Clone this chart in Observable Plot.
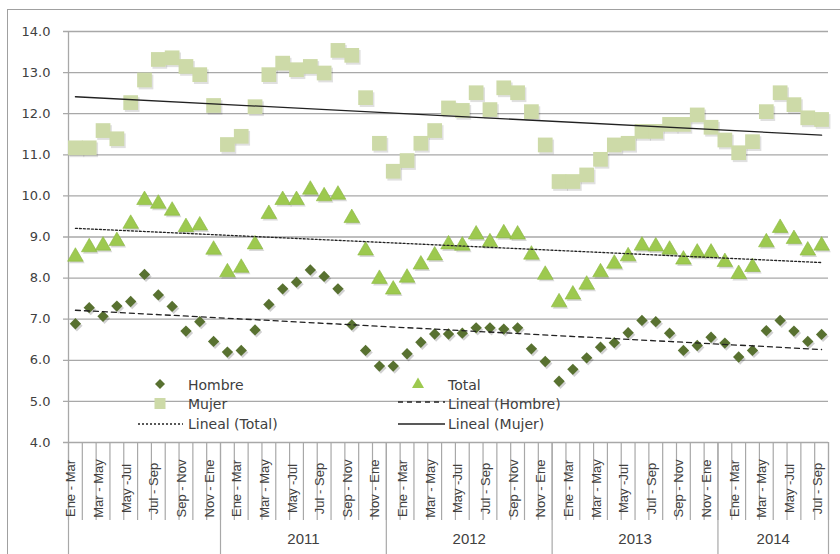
<!DOCTYPE html>
<html><head><meta charset="utf-8">
<script src="https://cdn.jsdelivr.net/npm/d3@7"></script>
<script src="https://cdn.jsdelivr.net/npm/@observablehq/plot@0.6"></script>
<style>
html,body{margin:0;padding:0;background:#fff;overflow:hidden;}
#wrap{position:relative;width:840px;height:554px;overflow:hidden;}
#border{position:absolute;left:7px;top:9px;width:900px;height:600px;border:1.5px solid #a0a0a0;box-sizing:border-box;}
#chart{position:absolute;left:0;top:0;}
#legend{position:absolute;left:0;top:0;}
</style></head><body>
<div id="wrap"><div id="border"></div><div id="chart"></div><svg id="legend" width="840" height="554"></svg></div>
<script>
const periods = [
  "Ene - Mar","Feb - Abr","Mar - May","Abr - Jun","May -Jul","Jun - Ago","Jul - Sep","Ago - Oct","Sep - Nov","Oct - Dic","Nov - Ene",
  "Dic - Feb","Ene - Mar","Feb - Abr","Mar - May","Abr - Jun","May -Jul","Jun - Ago","Jul - Sep","Ago - Oct","Sep - Nov","Oct - Dic","Nov - Ene",
  "Dic - Feb","Ene - Mar","Feb - Abr","Mar - May","Abr - Jun","May -Jul","Jun - Ago","Jul - Sep","Ago - Oct","Sep - Nov","Oct - Dic","Nov - Ene",
  "Dic - Feb","Ene - Mar","Feb - Abr","Mar - May","Abr - Jun","May -Jul","Jun - Ago","Jul - Sep","Ago - Oct","Sep - Nov","Oct - Dic","Nov - Ene",
  "Dic - Feb","Ene - Mar","Feb - Abr","Mar - May","Abr - Jun","May -Jul","Jun - Ago","Jul - Sep"
];
const yearLabels = ["", "2011", "2012", "2013", "2014"];
const yearCounts = [11, 12, 12, 12, 8];

const hombre = [6.89,7.28,7.07,7.32,7.43,8.09,7.59,7.31,6.71,6.94,6.46,
  6.20,6.24,6.74,7.36,7.74,7.90,8.20,8.04,7.74,6.86,6.24,5.86,
  5.86,6.16,6.44,6.64,6.64,6.66,6.79,6.79,6.76,6.79,6.28,5.97,
  5.49,5.78,6.06,6.32,6.43,6.67,6.97,6.94,6.66,6.24,6.36,6.56,
  6.42,6.08,6.24,6.72,6.97,6.71,6.46,6.63];
const total = [8.52,8.75,8.79,8.90,9.32,9.90,9.81,9.64,9.24,9.28,8.69,
  8.14,8.25,8.82,9.56,9.90,9.90,10.15,9.99,10.03,9.46,8.67,7.98,
  7.72,8.01,8.33,8.55,8.82,8.79,9.06,8.87,9.09,9.06,8.57,8.08,
  7.41,7.60,7.84,8.14,8.35,8.53,8.79,8.77,8.69,8.45,8.62,8.62,
  8.39,8.10,8.27,8.87,9.22,8.95,8.67,8.79];
const mujer = [11.17,11.17,11.59,11.39,12.27,12.82,13.32,13.36,13.15,12.95,12.20,
  11.25,11.45,12.17,12.95,13.23,13.07,13.15,12.99,13.54,13.42,12.39,11.28,
  10.60,10.86,11.28,11.59,12.14,12.08,12.51,12.10,12.63,12.51,12.05,11.24,
  10.35,10.35,10.51,10.89,11.24,11.28,11.57,11.57,11.74,11.74,11.97,11.67,
  11.36,11.05,11.32,12.05,12.51,12.22,11.90,11.86];
const yTicks = [4,5,6,7,8,9,10,11,12,13,14];

const rows = periods.map((p, i) => ({i, period: p, hombre: hombre[i], total: total[i], mujer: mujer[i]}));
const labelled = rows.filter(d => d.i % 2 === 0);
const boundaries = d3.range(periods.length + 1).map(k => k - 0.5);
const cum = d3.cumsum([0, ...yearCounts]);
const groupEdges = Array.from(cum, v => v - 0.5);
const groups = yearLabels.map((label, g) => ({label, center: (cum[g] + cum[g + 1]) / 2 - 0.5}));

const GRID = "#a8a8a8";
const C_H = "#587130", C_T = "#9dc94f", C_M = "#cddaa8";

const chart = Plot.plot({
  width: 840, height: 554,
  marginLeft: 68, marginRight: 12, marginTop: 31, marginBottom: 112,
  style: {fontFamily: "DejaVu Sans", fontSize: "13px", color: "#404040", background: "transparent"},
  x: {type: "linear", domain: [-0.5, periods.length - 0.5], axis: null},
  y: {domain: [4, 14], axis: null},
  marks: [
    Plot.gridY(yTicks, {stroke: GRID, strokeOpacity: 1, strokeWidth: 1.3, insetLeft: -5}),
    Plot.ruleX([-0.5], {stroke: GRID, strokeWidth: 1.3}),
    Plot.ruleX(boundaries, {stroke: GRID, strokeWidth: 1.2, insetTop: 411, insetBottom: -78}),
    Plot.ruleX(groupEdges, {stroke: GRID, strokeWidth: 1.2, insetTop: 411, insetBottom: -115}),
    Plot.axisY(yTicks, {tickSize: 0, tickPadding: 18, tickFormat: d => d.toFixed(1), fontSize: 13}),
    Plot.text(labelled, {x: "i", text: "period", frameAnchor: "bottom", dy: 46, rotate: -90, textAnchor: "middle",
      fontFamily: "Liberation Sans", fontSize: 13, fill: "#404040"}),
    Plot.text(groups, {x: "center", text: "label", frameAnchor: "bottom", dy: 101,
      fontFamily: "Liberation Sans", fontSize: 15, fill: "#404040"}),
    // shadows
    Plot.dot(rows, {x: "i", y: "hombre", symbol: "diamond2", r: 5.1, fill: "#000", fillOpacity: 0.18, dx: 1.5, dy: 2}),
    Plot.dot(rows, {x: "i", y: "total", symbol: "triangle", r: 5.8, fill: "#000", fillOpacity: 0.15, dx: 1.5, dy: 2}),
    Plot.dot(rows, {x: "i", y: "mujer", symbol: "square", r: 8.3, fill: "#000", fillOpacity: 0.12, dx: 1.5, dy: 2}),
    Plot.dot(rows, {x: "i", y: "hombre", symbol: "diamond2", r: 5.1, fill: C_H}),
    Plot.dot(rows, {x: "i", y: "total", symbol: "triangle", r: 5.8, fill: C_T, stroke: "#8cb942", strokeWidth: 0.6}),
    Plot.dot(rows, {x: "i", y: "mujer", symbol: "square", r: 8.3, fill: C_M}),
    Plot.linearRegressionY(rows, {x: "i", y: "hombre", ci: 0, stroke: "#222", strokeWidth: 1.3, strokeDasharray: "5,4"}),
    Plot.linearRegressionY(rows, {x: "i", y: "total", ci: 0, stroke: "#222", strokeWidth: 1.3, strokeDasharray: "2,2"}),
    Plot.linearRegressionY(rows, {x: "i", y: "mujer", ci: 0, stroke: "#222", strokeWidth: 1.3})
  ]
});
document.getElementById("chart").appendChild(chart);

document.getElementById("legend").innerHTML = `
<g font-family="DejaVu Sans" font-size="14" fill="#404040">
  <path d="M160,379L165,384L160,389L155,384Z" fill="${C_H}"/>
  <text x="188" y="390">Hombre</text>
  <rect x="154.5" y="398" width="11" height="11" fill="${C_M}"/>
  <text x="188" y="409">Mujer</text>
  <line x1="138" x2="183" y1="424" y2="424" stroke="#222" stroke-width="1.3" stroke-dasharray="2,2"/>
  <text x="188" y="429">Lineal (Total)</text>
  <path d="M418,377.5L424,388L412,388Z" fill="${C_T}"/>
  <text x="448" y="390">Total</text>
  <line x1="398" x2="445" y1="402" y2="402" stroke="#222" stroke-width="1.3" stroke-dasharray="5,4"/>
  <text x="448" y="409">Lineal (Hombre)</text>
  <line x1="398" x2="445" y1="424" y2="424" stroke="#222" stroke-width="1.3"/>
  <text x="448" y="429">Lineal (Mujer)</text>
</g>`;
</script>
</body></html>
